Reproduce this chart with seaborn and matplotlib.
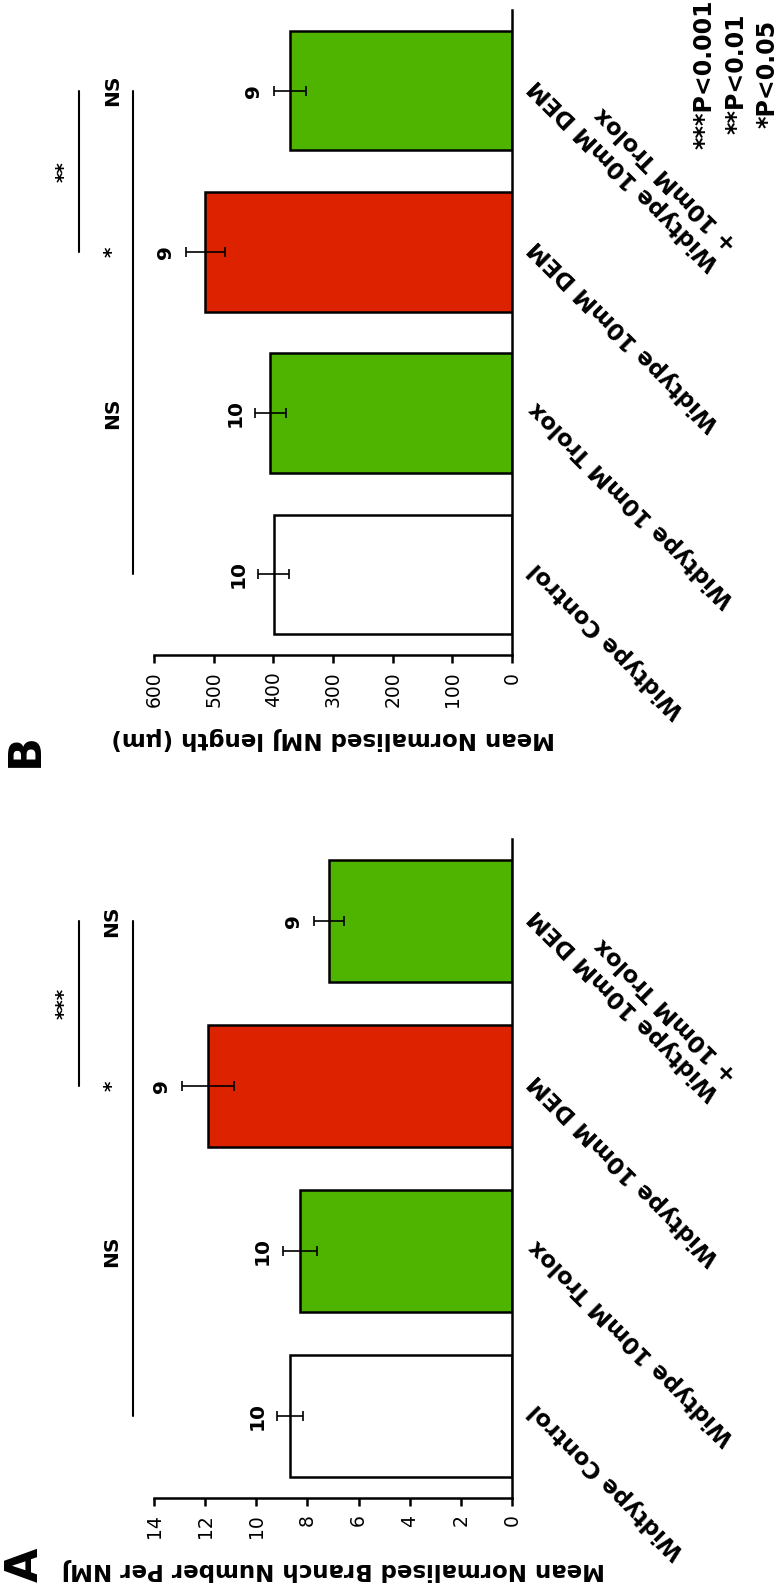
import matplotlib
matplotlib.use("Agg")
import matplotlib.pyplot as plt
import seaborn as sns

# groups, bottom to top in the picture
groups = ["Widtype Control", "Widtype 10mM Trolox", "Widtype 10mM DEM",
          "Widtype 10mM DEM\n+ 10mM Trolox"]
bar_colors = ["#FFFFFF", "#4EB400", "#DD2200", "#4EB400"]

# panel A: branch number
branch_mean = [8.68, 8.29, 11.89, 7.16]
branch_sem = [0.51, 0.68, 1.02, 0.59]
branch_n = [10, 10, 9, 9]

# panel B: NMJ length
length_mean = [399, 405, 514, 372]
length_sem = [26, 26, 33, 27]
length_n = [10, 10, 9, 9]

sns.set_style("white")
plt.rcParams["font.family"] = ["DejaVu Sans"]
plt.rcParams["text.color"] = "black"
plt.rcParams["axes.labelcolor"] = "black"
plt.rcParams["xtick.color"] = "black"
plt.rcParams["ytick.color"] = "black"


def draw_panel(ax, means, sems, ns, vmax, step, ylabel, sig):
    sns.barplot(x=means, y=groups, hue=groups, palette=bar_colors, legend=False,
                orient="h", width=0.74, edgecolor="black", linewidth=1.8,
                saturation=1, ax=ax)
    ax.errorbar(means, range(4), xerr=sems, fmt="none", ecolor="black",
                elinewidth=1.2, capsize=3.5, capthick=1.2, zorder=3)
    ax.set_ylim(-0.5, 3.5)
    ax.set_xlim(vmax, 0)
    ax.set_xticks(range(0, vmax + 1, step))
    ax.set_ylabel("")
    ax.set_xlabel(ylabel, rotation=180, fontweight="bold", fontsize=16.5,
                  labelpad=14, color="black")
    for s in ["top", "left"]:
        ax.spines[s].set_visible(False)
    for s in ["right", "bottom"]:
        ax.spines[s].set_visible(True)
        ax.spines[s].set_linewidth(1.8)
        ax.spines[s].set_color("black")
    ax.tick_params(axis="x", labelrotation=90, labelsize=13.5, length=6,
                   width=1.8, pad=6, direction="out", bottom=True,
                   colors="black")
    ax.yaxis.tick_right()
    ax.set_yticks(range(4))
    ax.set_yticklabels(groups, rotation=135, ha="right", va="top",
                       rotation_mode="anchor", fontweight="bold", fontsize=16.5,
                       multialignment="left", color="black")
    ax.tick_params(axis="y", length=0, pad=9)

    for i, (m, s, n) in enumerate(zip(means, sems, ns)):
        ax.annotate(str(n), xy=(m + s, i), xytext=(-14.5, 0),
                    textcoords="offset points", rotation=90, ha="center",
                    va="center", fontweight="bold", fontsize=14.5,
                    color="black")

    low_x, low_txt, up_x, up_txt, up_label = sig
    ax.plot([low_x, low_x], [0, 3], color="black", lw=1.5, clip_on=False)
    ax.plot([up_x, up_x], [2, 3], color="black", lw=1.5, clip_on=False)
    for pos, lab in zip([1, 2, 3], ["NS", "*", "NS"]):
        ax.text(low_txt, pos, lab, rotation=90, ha="center", va="center",
                fontweight="bold", fontsize=14.5, clip_on=False, color="black")
    ax.text(up_txt, 2.5, up_label, rotation=90, ha="center", va="center",
            fontweight="bold", fontsize=14.5, clip_on=False, color="black")


fig = plt.figure(figsize=(7.77, 15.89), dpi=100)
axB = fig.add_axes([0.1982, 0.5878, 0.4607, 0.4059])
axA = fig.add_axes([0.1982, 0.0573, 0.4607, 0.4147])

draw_panel(axA, branch_mean, branch_sem, branch_n, 14, 2,
           "Mean Normalised Branch Number Per NMJ",
           (14.82, 15.64, 16.93, 17.5, "***"))
draw_panel(axB, length_mean, length_sem, length_n, 600, 100,
           "Mean Normalised NMJ length (\u03bcm)",
           (635, 670, 726, 750, "**"))

fig.text(25 / 777, 1 - 1565 / 1589, "A", rotation=90, fontsize=32,
         fontweight="bold", ha="center", va="center")
fig.text(25 / 777, 1 - 750 / 1589, "B", rotation=90, fontsize=32,
         fontweight="bold", ha="center", va="center")
fig.text(736 / 777, 1 - 74 / 1589, "***P<0.001\n**P<0.01\n*P<0.05",
         rotation=90, ha="center", va="center", multialignment="center",
         fontweight="bold", fontsize=17, linespacing=1.38)

fig.savefig("out.png", dpi=100)
